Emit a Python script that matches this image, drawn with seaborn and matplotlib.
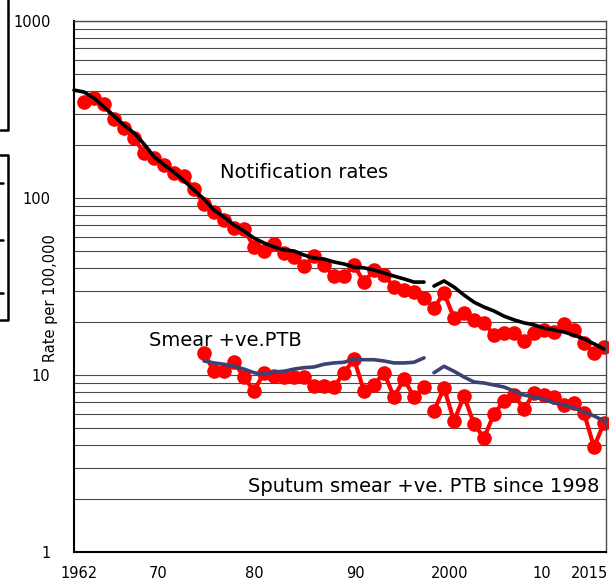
import numpy as np
import pandas as pd
import seaborn as sns
import matplotlib
matplotlib.use("Agg")
from matplotlib import pyplot as plt
from matplotlib.lines import Line2D
from matplotlib.ticker import LogLocator, NullFormatter, FixedLocator

# notification rates (red dots), 1963-2015, new definition from 1998
notif_years = list(range(1963, 2016))
notif_rate = [349, 367, 340, 279, 249, 218, 180, 168, 154, 138, 133, 112, 92.5, 83.4,
              75.1, 67.7, 66.8, 52.9, 50.2, 55, 48.9, 46.4, 41.3, 47, 41.8, 36.2, 36.2,
              41.8, 33.5, 39.2, 36.7, 31.4, 30.2, 29.4, 27.2,
              23.9, 29.1, 21, 22.4, 20.5, 19.7, 16.8, 17.3, 17.3, 15.6, 17.3, 18, 17.5,
              19.4, 18, 15.2, 13.3, 14.4]

# smoothed notification rates (black line), 1962-2015
trend_years = list(range(1962, 2016))
trend_rate = [407, 397, 367, 327, 291, 258, 233, 202, 171, 154, 140, 125, 111, 98.7,
              85.5, 78.1, 70.4, 65.1, 59.4, 55.7, 52.9, 50.8, 50.2, 47.6, 45.8, 45.2,
              43.5, 42.4, 40.7, 40.3, 39.2, 37.7, 36.2, 34.9, 33.5, 33.5,
              31.8, 34, 31.4, 28.3, 25.8, 24.2, 23, 21.5, 20.5, 19.7, 19.2, 18.4, 18,
              17.5, 16.8, 16, 15, 14]

# smear positive PTB (red dots), 1975-2015
smear_years = list(range(1975, 2016))
smear_rate = [13.3, 10.5, 10.5, 11.8, 9.74, 8.12, 10.3, 9.87, 9.74, 9.74, 9.74, 8.67,
              8.67, 8.55, 10.3, 12.3, 8.12, 8.78, 10.3, 7.51, 9.49, 7.51, 8.55,
              6.26, 8.45, 5.5, 7.61, 5.29, 4.41, 6.02, 7.13, 7.71, 6.43, 7.91, 7.71,
              7.51, 6.77, 6.95, 6.1, 3.92, 5.36]

# smoothed smear positive PTB (navy line), 1975-2015
smear_trend = [12.0, 11.7, 11.5, 11.2, 10.8, 10.3, 10.1, 10.4, 10.5, 10.8, 11.0, 11.1,
               11.5, 11.7, 11.8, 12.3, 12.2, 12.2, 12.0, 11.7, 11.7, 11.8, 12.5,
               10.3, 11.2, 10.5, 9.74, 9.13, 9.01, 8.78, 8.55, 8.12, 7.71, 7.51, 7.32,
               6.95, 6.77, 6.51, 6.18, 5.87, 5.5]

break_year = 1998
tick_pos = [1962.5, 1970.4, 1980.0, 1990.1, 1999.6, 2008.8, 2013.6]
tick_lab = ['1962', '70', '80', '90', '2000', '10', '2015']


def make_df(years, values):
    df = pd.DataFrame({'year': years, 'rate': values})
    df['period'] = np.where(df['year'] < break_year, 'old', 'new')
    return df


sns.set_style('white')
plt.rcParams['font.family'] = ['DejaVu Sans']
plt.rcParams['text.color'] = 'black'
plt.rcParams['xtick.labelcolor'] = 'black'
plt.rcParams['ytick.labelcolor'] = 'black'

fig = plt.figure(figsize=(6.09, 5.82), dpi=100)
ax = fig.add_axes([74 / 609, 30 / 582, 532 / 609, 531 / 582])

# red series with dots
dot_kw = dict(estimator=None, color='#ff0000', linewidth=3, marker='o',
              markersize=10.5, markeredgewidth=0, legend=False, ax=ax)
sns.lineplot(data=make_df(notif_years, notif_rate), x='year', y='rate',
             units='period', **dot_kw)
sns.lineplot(data=make_df(smear_years, smear_rate), x='year', y='rate',
             units='period', **dot_kw)

# trend lines
sns.lineplot(data=make_df(trend_years, trend_rate), x='year', y='rate',
             units='period', estimator=None, color='black', linewidth=2.6,
             legend=False, ax=ax)
sns.lineplot(data=make_df(smear_years, smear_trend), x='year', y='rate',
             units='period', estimator=None, color='#3c4272', linewidth=2.6,
             legend=False, ax=ax)

for ln in ax.lines:
    ln.set_clip_on(False)

ax.set_yscale('log')
ax.set_ylim(1, 1000)
ax.set_xlim(1962, 2015.2)

# gridlines at every log step
ax.yaxis.set_major_locator(FixedLocator([1, 10, 100, 1000]))
ax.yaxis.set_minor_locator(LogLocator(base=10, subs=np.arange(2, 10)))
ax.yaxis.set_minor_formatter(NullFormatter())
ax.set_yticklabels(['1', '10', '100', '1000'])
ax.grid(True, which='both', axis='y', color='#4a4a4a', linewidth=0.8)
ax.set_axisbelow(True)
ax.tick_params(axis='y', which='both', length=0, pad=17, labelsize=10.5,
               labelcolor='black')

# x axis: labels without ticks, small inward ticks every year
ax.set_xticks(tick_pos)
ax.set_xticklabels(tick_lab)
ax.set_xticks(range(1962, 2016), minor=True)
ax.tick_params(axis='x', which='major', length=0, pad=10, labelsize=10.5,
               labelcolor='black')
ax.tick_params(axis='x', which='minor', direction='in', length=4, width=0.8,
               color='black')

for side in ['left', 'bottom']:
    ax.spines[side].set_color('black')
    ax.spines[side].set_linewidth(1.5)
for side in ['top', 'right']:
    ax.spines[side].set_color('#4a4a4a')
    ax.spines[side].set_linewidth(1.0)

ax.set_xlabel('')
ax.set_ylabel('')
fig.text(51 / 609, 1 - 298 / 582, 'Rate per 100,000', rotation=90, fontsize=10.5,
         ha='center', va='center', color='black')

ax.text(1985, 140, 'Notification rates', fontsize=14, ha='center', va='center',
        color='black')
ax.text(1969.5, 15.6, 'Smear +ve.PTB', fontsize=14, ha='left', va='center',
        color='black')
ax.text(1979.4, 2.33, 'Sputum smear +ve. PTB since 1998', fontsize=14,
        ha='left', va='center', color='black')

# fragments of neighbouring frames at the left edge
def px_line(xs, ys):
    fig.add_artist(Line2D([x / 609 for x in xs], [1 - y / 582 for y in ys],
                          transform=fig.transFigure, color='black', linewidth=1.8))

px_line([0, 8, 8], [130, 130, 0])
px_line([0, 8, 8, 0], [155, 155, 320, 320])
for yy in [183, 240, 293]:
    px_line([0, 3], [yy, yy])

fig.savefig('out.png', dpi=100)
